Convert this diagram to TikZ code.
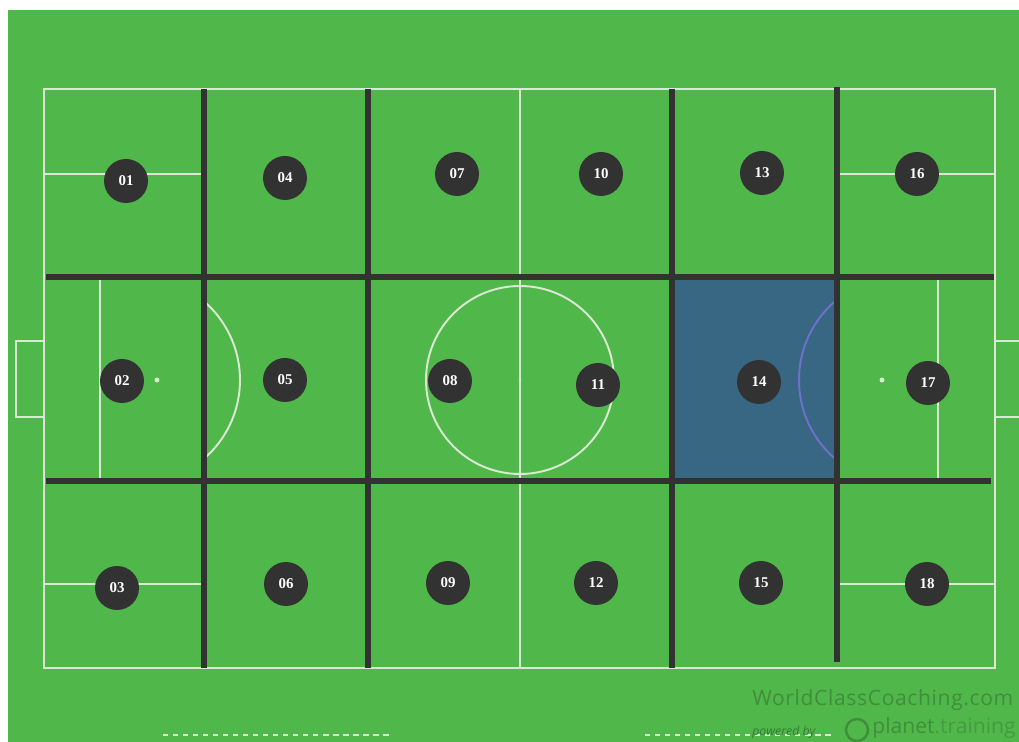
\documentclass[tikz,border=0pt]{standalone}
\usepackage{fontspec}
\setmainfont{Liberation Serif}
\setsansfont{Open Sans}
\usepackage{xcolor}
\usepackage{tikz}
\usetikzlibrary{positioning}

\definecolor{pitch}{RGB}{80,184,74}
\definecolor{chalk}{RGB}{218,232,212}
\definecolor{zoneline}{RGB}{50,50,50}
\definecolor{zonefill}{RGB}{56,103,132}
\definecolor{arcblue}{RGB}{112,112,204}
\definecolor{wmark}{RGB}{64,142,60}

\tikzset{
  chalkline/.style={draw=chalk, line width=1.1pt},
  zoneedge/.style={draw=zoneline, line width=2.9pt},
  player/.style={circle, fill=zoneline, text=white, inner sep=0pt,
                 minimum size=0.88cm, font=\fontsize{8.5}{10}\selectfont\bfseries}
}

\begin{document}
\begin{tikzpicture}[x=0.02cm, y=-0.02cm]
% ========== 背景 ==========
\useasboundingbox (0,0) rectangle (1019,742);
\fill[white] (0,0) rectangle (1019,742);
\fill[pitch] (8,10) rectangle (1019,742);

% ========== 球场线 ==========
\draw[chalkline] (44,89) rectangle (995,668);
\draw[chalkline] (520,89) -- (520,668);
\draw[chalkline] (520,380) circle[radius=94];
\fill[chalk] (520,380) circle[radius=1.5];
% 球门
\draw[chalkline] (44,341) -- (16,341) -- (16,417) -- (44,417);
\draw[chalkline] (995,341) -- (1025,341) -- (1025,417) -- (995,417);
% 禁区线
\draw[chalkline] (44,174) -- (204,174);
\draw[chalkline] (44,584) -- (204,584);
\draw[chalkline] (837,174) -- (995,174);
\draw[chalkline] (837,584) -- (995,584);
\draw[chalkline] (100,277) -- (100,481);
\draw[chalkline] (938,277) -- (938,481);
% 点球点
\fill[chalk] (157,380) circle[radius=2.5];
\fill[chalk] (882,380) circle[radius=2.5];
% 左侧弧线
\begin{scope}
  \clip (204,277) rectangle (368,481);
  \draw[chalkline] (136,380) circle[radius=104];
\end{scope}

% ========== 高亮区域 14 ==========
\fill[zonefill] (672,277) rectangle (837,481);
\begin{scope}
  \clip (672,277) rectangle (837,481);
  \draw[arcblue, line width=1.1pt] (903,380) circle[radius=104];
\end{scope}

% ========== 区域分隔线 ==========
\foreach \x in {204,368,672} {
  \draw[zoneedge] (\x,89) -- (\x,668);
}
\draw[zoneedge] (837,87) -- (837,662);
\draw[zoneedge] (46,277) -- (994,277);
\draw[zoneedge] (46,481) -- (991,481);

% ========== 区域编号 ==========
\foreach \n/\x/\y in {01/126/181, 04/285/178, 07/457/174, 10/601/174, 13/762/173, 16/917/174,
                      02/122/381, 05/285/380, 08/450/381, 11/598/385, 14/759/382, 17/928/383,
                      03/117/588, 06/286/584, 09/448/583, 12/596/583, 15/761/583, 18/927/584} {
  \node[player] (p\n) at (\x,\y) {\n};
}

% ========== 底部虚线与水印 ==========
\draw[chalk, line width=1.1pt, dash pattern=on 3pt off 2.7pt] (163,735) -- (393,735);
\draw[chalk, line width=1.1pt, dash pattern=on 3pt off 2.7pt] (645,735) -- (835,735);
\node[wmark, anchor=west, inner sep=0pt,
      font=\sffamily\addfontfeatures{LetterSpace=3}\fontsize{12}{14}\selectfont]
  (brand) at (752,700) {WorldClassCoaching.com};
\node[wmark!85!black, anchor=west, font=\sffamily\itshape\fontsize{7}{8}\selectfont, inner sep=0pt]
  (powered) at (752,732) {powered by};
\draw[wmark, line width=1.4pt] (857,730) circle[radius=11];
\node[wmark, anchor=west, font=\sffamily\fontsize{12}{14}\selectfont, inner sep=0pt]
  (planet) at (872,728) {planet\textcolor{wmark!70!pitch}{.training}};
\end{tikzpicture}
\end{document}
